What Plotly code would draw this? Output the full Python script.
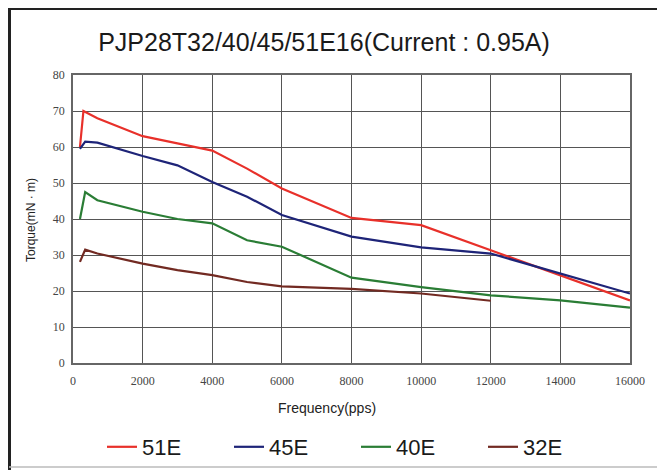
import plotly.graph_objects as go

freq_51 = [200, 300, 700, 2000, 3000, 4000, 5000, 6000, 8000, 10000, 12000, 14000, 16000]
torque_51 = [60, 70, 68, 63, 61, 59, 54, 48.5, 40.3, 38.3, 31.3, 24.4, 17.4]

freq_45 = [200, 350, 700, 2000, 3000, 4000, 5000, 6000, 8000, 10000, 12000, 14000, 16000]
torque_45 = [59.5, 61.5, 61.2, 57.5, 54.9, 50.3, 46.2, 41.1, 35.1, 32.1, 30.4, 24.9, 19.3]

freq_40 = [200, 350, 700, 2000, 3000, 4000, 5000, 6000, 8000, 10000, 12000, 14000, 16000]
torque_40 = [40, 47.5, 45.2, 42, 40, 38.8, 34.1, 32.3, 23.7, 21.1, 18.8, 17.4, 15.4]

freq_32 = [200, 350, 700, 2000, 3000, 4000, 5000, 6000, 8000, 10000, 12000]
torque_32 = [28.1, 31.5, 30.4, 27.6, 25.8, 24.4, 22.5, 21.3, 20.6, 19.3, 17.3]

names = ["51E", "45E", "40E", "32E"]
colors = ["#e8302a", "#1e2478", "#2a7d35", "#722a22"]

x_ticks = [0, 2000, 4000, 6000, 8000, 10000, 12000, 14000, 16000]
x_labels = ["0", "2000", "4000", "6000", "8000", "10000", "12000", "14000", "16000"]
y_ticks = [0, 10, 20, 30, 40, 50, 60, 70, 80]

# page body has an 8px margin; work in screen coordinates and convert
OFF = 8
W, H = 665 - OFF, 471 - OFF
L, T = 73 - OFF, 75 - OFF
R = W - (630 - OFF)
B = H - (363 - OFF)
pw, ph = W - L - R, H - T - B

def px(x):
    return (x - OFF - L) / pw

def py(y):
    return (H - B - (y - OFF)) / ph

fig = go.Figure()
for f, t, n, c in zip([freq_51, freq_45, freq_40, freq_32],
                      [torque_51, torque_45, torque_40, torque_32], names, colors):
    fig.add_trace(go.Scatter(x=f, y=t, mode="lines", name=n,
                             line=dict(color=c, width=2.2)))

axis_common = dict(showgrid=True, gridcolor="#555555", gridwidth=1.3,
                   showline=True, linecolor="#666666", linewidth=1.5, mirror=True,
                   zeroline=False, ticks="", automargin=False,
                   tickfont=dict(family="Liberation Serif", size=12, color="#444444"))

fig.update_xaxes(range=[0, 16000], tickvals=x_ticks, ticktext=x_labels,
                 ticklabelstandoff=6, **axis_common)
fig.update_yaxes(range=[0, 80], tickvals=y_ticks, ticklabelstandoff=4, **axis_common)

shapes = [
    dict(type="line", xref="paper", yref="paper", x0=px(8.5), x1=px(670), y0=py(8.5), y1=py(8.5),
         line=dict(color="#222222", width=3)),
    dict(type="line", xref="paper", yref="paper", x0=px(9.5), x1=px(9.5), y0=py(8), y1=py(470),
         line=dict(color="#222222", width=3)),
    dict(type="line", xref="paper", yref="paper", x0=px(661), x1=px(661), y0=py(8), y1=py(469),
         line=dict(color="#cccccc", width=1.5)),
    dict(type="line", xref="paper", yref="paper", x0=px(9), x1=px(662), y0=py(467), y1=py(467),
         line=dict(color="#bbbbbb", width=1.5)),
]

annotations = [
    dict(text="Frequency(pps)", xref="paper", yref="paper", x=px(327), y=py(408),
         xanchor="center", yanchor="middle", showarrow=False,
         font=dict(family="Liberation Sans", size=14, color="#222222")),
    dict(text="Torque(mN · m)", xref="paper", yref="paper", x=px(31), y=py(220),
         xanchor="center", yanchor="middle", showarrow=False, textangle=-90,
         font=dict(family="Liberation Sans", size=12, color="#222222")),
]

fig.update_layout(
    width=W, height=H,
    margin=dict(l=L, r=R, t=T, b=B, autoexpand=False),
    paper_bgcolor="white", plot_bgcolor="white",
    title=dict(text="PJP28T32/40/45/51E16(Current : 0.95A)", xref="container",
               x=(324 - OFF) / W, xanchor="center",
               y=1 - (42 - OFF) / H, yanchor="middle",
               font=dict(family="Liberation Sans", size=25, color="#1a1a1a")),
    showlegend=True,
    legend=dict(orientation="h", x=px(356), xanchor="center", y=py(447), yanchor="middle",
                font=dict(family="Liberation Sans", size=22, color="#1a1a1a"),
                entrywidth=82, entrywidthmode="pixels", bgcolor="rgba(0,0,0,0)"),
    shapes=shapes,
    annotations=annotations,
)

fig.write_html("out.html")
